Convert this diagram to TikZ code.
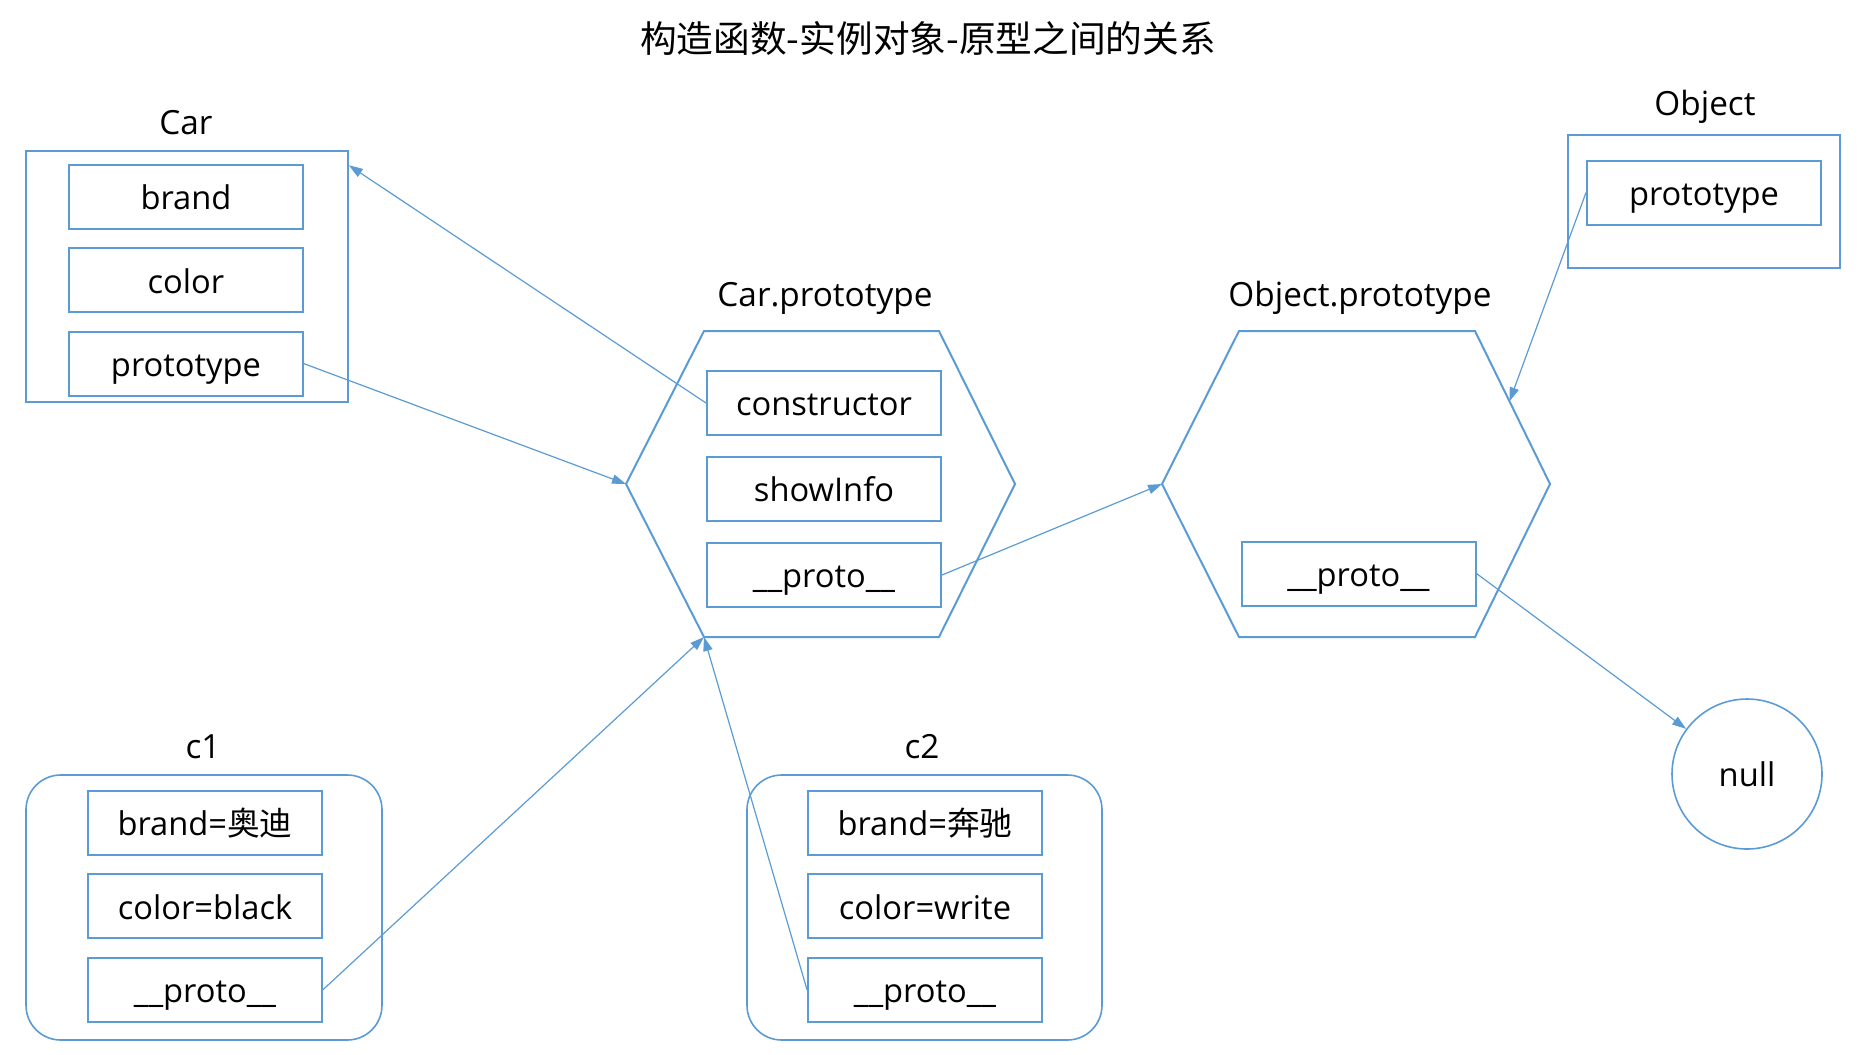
\documentclass[tikz,border=0pt]{standalone}
\usepackage{fontspec}
\setmainfont{Open Sans}
\newfontfamily\hanfont{Noto Sans CJK SC}
\usetikzlibrary{arrows.meta,positioning,calc}
\definecolor{linkblue}{RGB}{91,155,213}
\tikzset{
  fieldbox/.style={draw=linkblue,line width=1.5pt,minimum width=175.5pt,
    minimum height=48pt,inner sep=0pt,text height=19pt,text depth=0pt,
    font=\fontsize{24.5}{28}\selectfont},
  holder/.style={draw=linkblue,line width=1.2pt,inner sep=0pt},
  instholder/.style={holder,rounded corners=26pt},
  hexline/.style={draw=linkblue,line width=1.5pt},
  caption/.style={inner sep=0pt,font=\fontsize{25}{28}\selectfont},
  linkarrow/.style={-{Triangle[length=10.5pt,width=7pt]},line width=0.9pt,draw=linkblue},
  nullnode/.style={circle,draw=linkblue,line width=1.2pt,minimum size=112.5pt,
    inner sep=0pt,font=\fontsize{24.5}{28}\selectfont},
}
\begin{document}
\begin{tikzpicture}[x=0.75pt,y=-0.75pt,node distance=13pt]
    \useasboundingbox (0,0) rectangle (1870,1054);
    \node[caption,font=\hanfont\fontsize{27.5}{30}\selectfont] (title) at (928,38)
      {构造函数-实例对象-原型之间的关系};
    % Car
    \node[caption] (carlbl) at (186,123) {Car};
    \node[holder,minimum width=241.5pt,minimum height=188.25pt] (car) at (187,276.5) {};
    \node[fieldbox] (cbrand) at (186,197) {brand};
    \node[fieldbox,below=of cbrand] (ccolor) {color};
    \node[fieldbox,below=of ccolor] (cproto) {prototype};
    \coordinate (carhit) at ($(car.north east)+(0,15)$);
    % Car.prototype
    \node[caption] (cplbl) at (825,298) {Car.prototype};
    \coordinate (cpTL) at (704,331);  \coordinate (cpTR) at (939,331);
    \coordinate (cpR) at (1015,484);  \coordinate (cpBR) at (939,637);
    \coordinate (cpBL) at (704,637);  \coordinate (cpL) at (626,484);
    \draw[hexline] (cpTL) -- (cpTR) -- (cpR) -- (cpBR) -- (cpBL) -- (cpL) -- cycle;
    \node[fieldbox] (ccon) at (824,403) {constructor};
    \node[fieldbox,below=15pt of ccon] (cshow) {showInfo};
    \node[fieldbox,below=15pt of cshow] (cpproto) {\_\_proto\_\_};
    % Object.prototype
    \node[caption] (oplbl) at (1360,298) {Object.prototype};
    \coordinate (opTL) at (1239,331); \coordinate (opTR) at (1475,331);
    \coordinate (opR) at (1550,484);  \coordinate (opBR) at (1475,637);
    \coordinate (opBL) at (1239,637); \coordinate (opL) at (1162,484);
    \draw[hexline] (opTL) -- (opTR) -- (opR) -- (opBR) -- (opBL) -- (opL) -- cycle;
    \node[fieldbox] (opproto) at (1358.5,573.5) {\_\_proto\_\_};
    \coordinate (ophit) at ($(opTR)!0.46!(opR)$);
    % Object
    \node[caption] (objlbl) at (1705,107) {Object};
    \node[holder,minimum width=204pt,minimum height=99.75pt] (obj) at (1704,201.5) {};
    \node[fieldbox] (objproto) at (1704,192.5) {prototype};
    % null
    \node[nullnode] (null) at (1747,774) {null};
    % c1
    \node[caption] (alblx) at (203,747) {c1};
    \node[instholder,minimum width=267pt,minimum height=198.75pt] (inst1) at (204,907.5) {};
    \node[fieldbox] (abrand) at (205,823) {brand={\hanfont 奥迪}};
    \node[fieldbox,below=of abrand] (acolor) {color=black};
    \node[fieldbox,below=of acolor] (aproto) {\_\_proto\_\_};
    % c2
    \node[caption] (blbl) at (922,747) {c2};
    \node[instholder,minimum width=266.25pt,minimum height=198.75pt] (inst2) at (924.5,907.5) {};
    \node[fieldbox] (bbrand) at (925,823) {brand={\hanfont 奔驰}};
    \node[fieldbox,below=of bbrand] (bcolor) {color=write};
    \node[fieldbox,below=of bcolor] (bproto) {\_\_proto\_\_};
    % links
    \draw[linkarrow] (ccon.west) -- (carhit);
    \draw[linkarrow] (cproto.east) -- (cpL);
    \draw[linkarrow] (cpproto.east) -- (opL);
    \draw[linkarrow] (objproto.west) -- (ophit);
    \draw[linkarrow] (opproto.east) -- (null);
    \draw[linkarrow] (aproto.east) -- (cpBL);
    \draw[linkarrow] (bproto.west) -- (cpBL);
\end{tikzpicture}
\end{document}
